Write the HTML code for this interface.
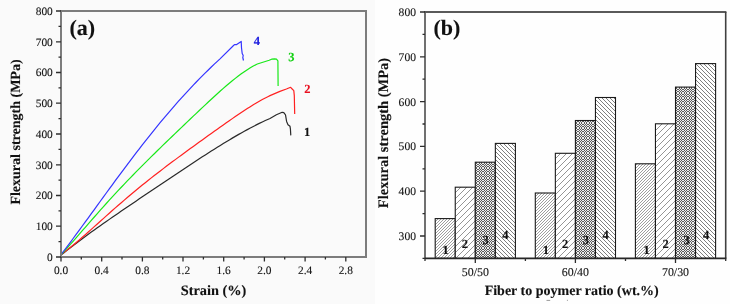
<!DOCTYPE html><html><head><meta charset="utf-8"><style>html,body{margin:0;padding:0;background:#fff;}svg{display:block;will-change:transform;}text{font-family:"Liberation Serif",serif;stroke-width:0.12px;paint-order:stroke;text-rendering:geometricPrecision;}</style></head><body>
<svg width="730" height="304" viewBox="0 0 730 304">
<defs>
<pattern id="p1" patternUnits="userSpaceOnUse" width="3" height="3"><rect width="3" height="3" fill="#fff"/><path d="M-1,4L4,-1M-1,1L1,-1M2,4L4,2" stroke="#858585" stroke-width="0.8"/></pattern>
<pattern id="p2" patternUnits="userSpaceOnUse" width="6" height="6"><rect width="6" height="6" fill="#fff"/><path d="M-1,7L7,-1M-1,1L1,-1M5,7L7,5" stroke="#7a7a7a" stroke-width="0.8"/></pattern>
<pattern id="p4" patternUnits="userSpaceOnUse" width="4" height="4"><rect width="4" height="4" fill="#fff"/><path d="M-1,-1L5,5M-1,3L1,5M3,-1L5,1" stroke="#686868" stroke-width="0.85"/></pattern>
<pattern id="p3" patternUnits="userSpaceOnUse" width="5" height="5"><g shape-rendering="crispEdges"><rect width="5" height="5" fill="#eeeeee"/><rect x="1" y="0" width="1" height="1" fill="#5c5c5c"/><rect x="4" y="0" width="1" height="1" fill="#5c5c5c"/><rect x="0" y="1" width="1" height="1" fill="#5c5c5c"/><rect x="2" y="1" width="1" height="1" fill="#5c5c5c"/><rect x="3" y="1" width="1" height="1" fill="#5c5c5c"/><rect x="1" y="2" width="1" height="1" fill="#5c5c5c"/><rect x="4" y="2" width="1" height="1" fill="#5c5c5c"/><rect x="1" y="3" width="1" height="1" fill="#5c5c5c"/><rect x="4" y="3" width="1" height="1" fill="#5c5c5c"/><rect x="0" y="4" width="1" height="1" fill="#5c5c5c"/><rect x="2" y="4" width="1" height="1" fill="#5c5c5c"/><rect x="3" y="4" width="1" height="1" fill="#5c5c5c"/></g></pattern>
</defs>
<rect x="0" y="0" width="375" height="304" fill="#fafafa"/>
<rect x="375" y="0" width="355" height="304" fill="#fefefe"/>
<path d="M61.30,254.85 L64.30,252.45 L67.30,250.08 L70.30,247.75 L73.30,245.44 L76.30,243.16 L79.30,240.91 L82.30,238.68 L85.30,236.47 L88.30,234.28 L91.30,232.11 L94.30,229.95 L97.30,227.81 L100.30,225.69 L103.30,223.57 L106.30,221.47 L109.30,219.38 L112.30,217.30 L115.30,215.23 L118.30,213.16 L121.30,211.10 L124.30,209.05 L127.30,207.01 L130.30,204.96 L133.30,202.92 L136.30,200.89 L139.30,198.86 L142.30,196.83 L145.30,194.80 L148.30,192.78 L151.30,190.75 L154.30,188.73 L157.30,186.71 L160.30,184.69 L163.30,182.68 L166.30,180.67 L169.30,178.65 L172.30,176.65 L175.30,174.64 L178.30,172.64 L181.30,170.64 L184.30,168.65 L187.30,166.66 L190.30,164.68 L193.30,162.70 L196.30,160.73 L199.30,158.77 L202.30,156.82 L205.30,154.89 L208.30,152.96 L211.30,151.04 L214.30,149.14 L217.30,147.26 L220.30,145.39 L223.30,143.54 L226.30,141.71 L229.30,139.90 L232.30,138.12 L235.30,136.36 L238.30,134.62 L241.30,132.92 L244.30,131.25 L247.30,129.60 L250.30,128.00 L253.30,126.43 L256.30,124.90 L259.30,123.41 L262.30,121.96 L265.30,120.56 L268.30,119.21 L270.00,118.47 L276.40,114.80 L282.20,112.30 L283.80,112.70 L285.50,114.80L286.60,121.40L288.00,124.70L290.00,126.30L290.40,128.80L290.80,135.40" fill="none" stroke="#2a2a2a" stroke-width="1.2" stroke-linejoin="round"/>
<path d="M61.30,254.35 L64.30,252.13 L67.30,249.83 L70.30,247.44 L73.30,244.99 L76.30,242.48 L79.30,239.92 L82.30,237.32 L85.30,234.69 L88.30,232.03 L91.30,229.36 L94.30,226.67 L97.30,223.98 L100.30,221.28 L103.30,218.59 L106.30,215.90 L109.30,213.23 L112.30,210.56 L115.30,207.92 L118.30,205.29 L121.30,202.68 L124.30,200.09 L127.30,197.53 L130.30,194.99 L133.30,192.48 L136.30,189.99 L139.30,187.52 L142.30,185.08 L145.30,182.66 L148.30,180.27 L151.30,177.90 L154.30,175.55 L157.30,173.22 L160.30,170.91 L163.30,168.62 L166.30,166.34 L169.30,164.09 L172.30,161.84 L175.30,159.61 L178.30,157.39 L181.30,155.18 L184.30,152.98 L187.30,150.79 L190.30,148.61 L193.30,146.43 L196.30,144.26 L199.30,142.09 L202.30,139.93 L205.30,137.77 L208.30,135.61 L211.30,133.46 L214.30,131.31 L217.30,129.17 L220.30,127.04 L223.30,124.92 L226.30,122.80 L229.30,120.70 L232.30,118.62 L235.30,116.55 L238.30,114.51 L241.30,112.49 L244.30,110.51 L247.30,108.56 L250.30,106.65 L253.30,104.79 L256.30,102.98 L259.30,101.24 L262.30,99.56 L265.30,97.97 L268.30,96.46 L270.00,95.64 L279.90,91.40 L286.40,89.00 L290.60,87.30 L292.20,89.00 L293.80,90.60L294.30,95.60L294.70,114.10" fill="none" stroke="#ff2020" stroke-width="1.2" stroke-linejoin="round"/>
<path d="M61.30,254.45 L64.30,251.16 L67.30,247.82 L70.30,244.45 L73.30,241.05 L76.30,237.62 L79.30,234.18 L82.30,230.73 L85.30,227.29 L88.30,223.84 L91.30,220.41 L94.30,216.99 L97.30,213.58 L100.30,210.20 L103.30,206.84 L106.30,203.50 L109.30,200.19 L112.30,196.91 L115.30,193.65 L118.30,190.42 L121.30,187.23 L124.30,184.06 L127.30,180.92 L130.30,177.80 L133.30,174.71 L136.30,171.65 L139.30,168.61 L142.30,165.59 L145.30,162.60 L148.30,159.62 L151.30,156.66 L154.30,153.71 L157.30,150.78 L160.30,147.85 L163.30,144.94 L166.30,142.04 L169.30,139.15 L172.30,136.26 L175.30,133.38 L178.30,130.50 L181.30,127.62 L184.30,124.75 L187.30,121.89 L190.30,119.03 L193.30,116.17 L196.30,113.32 L199.30,110.48 L202.30,107.65 L205.30,104.83 L208.30,102.03 L211.30,99.25 L214.30,96.49 L217.30,93.76 L220.30,91.07 L223.30,88.42 L226.30,85.81 L229.30,83.26 L232.30,80.78 L235.30,78.37 L238.30,76.04 L241.30,73.81 L244.30,71.68 L247.30,69.68 L250.30,67.80 L253.30,66.08 L256.30,64.51 L257.30,64.03 L269.20,60.20 L271.60,59.20 L274.50,58.80 L276.50,59.20 L277.90,60.80L278.10,86.00" fill="none" stroke="#18e818" stroke-width="1.2" stroke-linejoin="round"/>
<path d="M61.30,254.19 L64.30,250.25 L67.30,246.28 L70.30,242.27 L73.30,238.24 L76.30,234.18 L79.30,230.11 L82.30,226.01 L85.30,221.90 L88.30,217.78 L91.30,213.66 L94.30,209.53 L97.30,205.39 L100.30,201.26 L103.30,197.13 L106.30,193.01 L109.30,188.90 L112.30,184.80 L115.30,180.71 L118.30,176.64 L121.30,172.59 L124.30,168.56 L127.30,164.55 L130.30,160.57 L133.30,156.62 L136.30,152.69 L139.30,148.79 L142.30,144.93 L145.30,141.10 L148.30,137.30 L151.30,133.54 L154.30,129.81 L157.30,126.13 L160.30,122.48 L163.30,118.87 L166.30,115.31 L169.30,111.78 L172.30,108.30 L175.30,104.87 L178.30,101.47 L181.30,98.12 L184.30,94.81 L187.30,91.55 L190.30,88.33 L193.30,85.16 L196.30,82.03 L199.30,78.95 L202.30,75.90 L205.30,72.91 L208.30,69.95 L211.30,67.04 L214.30,64.17 L217.30,61.34 L220.00,58.83 L233.80,45.20 L234.80,44.60 L236.30,44.70 L241.20,41.40L241.50,47.80L242.20,53.50L243.20,55.50L242.80,57.50L243.50,60.50" fill="none" stroke="#3434ff" stroke-width="1.2" stroke-linejoin="round"/>
<rect x="61" y="11" width="305" height="246" fill="none" stroke="#7c7c7c" stroke-width="2"/>
<path d="M61.0,257v4.5M81.3,257v2.5M101.7,257v4.5M122.0,257v2.5M142.4,257v4.5M162.7,257v2.5M183.0,257v4.5M203.4,257v2.5M223.7,257v4.5M244.1,257v2.5M264.4,257v4.5M284.7,257v2.5M305.1,257v4.5M325.4,257v2.5M345.8,257v4.5M61,257.0h-5M61,241.6h-2.5M61,226.2h-5M61,210.9h-2.5M61,195.5h-5M61,180.1h-2.5M61,164.8h-5M61,149.4h-2.5M61,134.0h-5M61,118.6h-2.5M61,103.2h-5M61,87.9h-2.5M61,72.5h-5M61,57.1h-2.5M61,41.8h-5M61,26.4h-2.5M61,11.0h-5" stroke="#2e2e2e" stroke-width="1.3" fill="none"/>
<text x="61.0" y="274" font-size="11.4" text-anchor="middle" fill="#151515" stroke="#151515">0.0</text>
<text x="101.7" y="274" font-size="11.4" text-anchor="middle" fill="#151515" stroke="#151515">0.4</text>
<text x="142.4" y="274" font-size="11.4" text-anchor="middle" fill="#151515" stroke="#151515">0.8</text>
<text x="183.0" y="274" font-size="11.4" text-anchor="middle" fill="#151515" stroke="#151515">1.2</text>
<text x="223.7" y="274" font-size="11.4" text-anchor="middle" fill="#151515" stroke="#151515">1.6</text>
<text x="264.4" y="274" font-size="11.4" text-anchor="middle" fill="#151515" stroke="#151515">2.0</text>
<text x="305.1" y="274" font-size="11.4" text-anchor="middle" fill="#151515" stroke="#151515">2.4</text>
<text x="345.8" y="274" font-size="11.4" text-anchor="middle" fill="#151515" stroke="#151515">2.8</text>
<text x="52.8" y="260.9" font-size="11.4" text-anchor="end" fill="#151515" stroke="#151515">0</text>
<text x="52.8" y="230.2" font-size="11.4" text-anchor="end" fill="#151515" stroke="#151515">100</text>
<text x="52.8" y="199.4" font-size="11.4" text-anchor="end" fill="#151515" stroke="#151515">200</text>
<text x="52.8" y="168.7" font-size="11.4" text-anchor="end" fill="#151515" stroke="#151515">300</text>
<text x="52.8" y="137.9" font-size="11.4" text-anchor="end" fill="#151515" stroke="#151515">400</text>
<text x="52.8" y="107.2" font-size="11.4" text-anchor="end" fill="#151515" stroke="#151515">500</text>
<text x="52.8" y="76.4" font-size="11.4" text-anchor="end" fill="#151515" stroke="#151515">600</text>
<text x="52.8" y="45.6" font-size="11.4" text-anchor="end" fill="#151515" stroke="#151515">700</text>
<text x="52.8" y="14.9" font-size="11.4" text-anchor="end" fill="#151515" stroke="#151515">800</text>
<text x="213.5" y="295.3" font-size="14.3" font-weight="bold" text-anchor="middle" fill="#111" stroke="#111">Strain (%)</text>
<text transform="translate(19.5,132) rotate(-90)" x="0" y="0" font-size="14" font-weight="bold" text-anchor="middle" fill="#111" stroke="#111">Flexural strength (MPa)</text>
<text x="69.5" y="35" font-size="22" font-weight="bold" fill="#111" stroke="#111">(a)</text>
<text x="253.8" y="44.9" font-size="12.5" font-weight="bold" fill="#2020e0" stroke="#2020e0">4</text>
<text x="288.2" y="60.9" font-size="12.5" font-weight="bold" fill="#10d010" stroke="#10d010">3</text>
<text x="304.2" y="92.6" font-size="12.5" font-weight="bold" fill="#e81020" stroke="#e81020">2</text>
<text x="304.0" y="135.5" font-size="12.5" font-weight="bold" fill="#111" stroke="#111">1</text>
<rect x="435.20" y="218.6" width="20.05" height="39.8" fill="url(#p1)" stroke="#1a1a1a" stroke-width="1.1"/>
<rect x="455.25" y="187.2" width="20.05" height="71.2" fill="url(#p2)" stroke="#1a1a1a" stroke-width="1.1"/>
<rect x="475.30" y="162.2" width="20.05" height="96.2" fill="url(#p3)" stroke="#1a1a1a" stroke-width="1.1"/>
<rect x="495.35" y="143.4" width="20.05" height="115.0" fill="url(#p4)" stroke="#1a1a1a" stroke-width="1.1"/>
<rect x="535.30" y="193.0" width="20.05" height="65.4" fill="url(#p1)" stroke="#1a1a1a" stroke-width="1.1"/>
<rect x="555.35" y="153.3" width="20.05" height="105.1" fill="url(#p2)" stroke="#1a1a1a" stroke-width="1.1"/>
<rect x="575.40" y="120.5" width="20.05" height="137.9" fill="url(#p3)" stroke="#1a1a1a" stroke-width="1.1"/>
<rect x="595.45" y="97.5" width="20.05" height="160.9" fill="url(#p4)" stroke="#1a1a1a" stroke-width="1.1"/>
<rect x="635.40" y="163.8" width="20.05" height="94.6" fill="url(#p1)" stroke="#1a1a1a" stroke-width="1.1"/>
<rect x="655.45" y="123.8" width="20.05" height="134.6" fill="url(#p2)" stroke="#1a1a1a" stroke-width="1.1"/>
<rect x="675.50" y="87.1" width="20.05" height="171.3" fill="url(#p3)" stroke="#1a1a1a" stroke-width="1.1"/>
<rect x="695.55" y="63.6" width="20.05" height="194.8" fill="url(#p4)" stroke="#1a1a1a" stroke-width="1.1"/>
<text x="445.7" y="254.0" font-size="12.5" font-weight="bold" text-anchor="middle" fill="#111" stroke="#111">1</text>
<text x="464.9" y="247.6" font-size="12.5" font-weight="bold" text-anchor="middle" fill="#111" stroke="#111">2</text>
<text x="485.7" y="243.7" font-size="12.5" font-weight="bold" text-anchor="middle" fill="#111" stroke="#111">3</text>
<text x="505.4" y="238.7" font-size="12.5" font-weight="bold" text-anchor="middle" fill="#111" stroke="#111">4</text>
<text x="545.8" y="254.0" font-size="12.5" font-weight="bold" text-anchor="middle" fill="#111" stroke="#111">1</text>
<text x="565.0" y="247.6" font-size="12.5" font-weight="bold" text-anchor="middle" fill="#111" stroke="#111">2</text>
<text x="585.8" y="243.7" font-size="12.5" font-weight="bold" text-anchor="middle" fill="#111" stroke="#111">3</text>
<text x="605.5" y="238.7" font-size="12.5" font-weight="bold" text-anchor="middle" fill="#111" stroke="#111">4</text>
<text x="646.5" y="254.0" font-size="12.5" font-weight="bold" text-anchor="middle" fill="#111" stroke="#111">1</text>
<text x="665.7" y="247.6" font-size="12.5" font-weight="bold" text-anchor="middle" fill="#111" stroke="#111">2</text>
<text x="686.5" y="243.7" font-size="12.5" font-weight="bold" text-anchor="middle" fill="#111" stroke="#111">3</text>
<text x="706.2" y="238.7" font-size="12.5" font-weight="bold" text-anchor="middle" fill="#111" stroke="#111">4</text>
<path d="M425,258.9V12" fill="none" stroke="#707070" stroke-width="2"/>
<path d="M424,12H726.4000000000001" fill="none" stroke="#5a5a5a" stroke-width="2"/>
<path d="M725.7,12V258.4" fill="none" stroke="#404040" stroke-width="1.6"/>
<path d="M425,258.4H726.4000000000001" fill="none" stroke="#262626" stroke-width="1.6"/>
<path d="M425,258.4h-2.5M425,236.0h-5M425,213.6h-2.5M425,191.2h-5M425,168.8h-2.5M425,146.4h-5M425,124.0h-2.5M425,101.6h-5M425,79.2h-2.5M425,56.8h-5M425,34.4h-2.5M425,12.0h-5M425,258.4v2.5M475.3,258.4v4.5M525.4,258.4v2.5M575.4,258.4v4.5M625.5,258.4v2.5M675.5,258.4v4.5M725.7,258.4v2.5" stroke="#2e2e2e" stroke-width="1.3" fill="none"/>
<text x="416" y="239.9" font-size="11.6" text-anchor="end" fill="#151515" stroke="#151515">300</text>
<text x="416" y="195.1" font-size="11.6" text-anchor="end" fill="#151515" stroke="#151515">400</text>
<text x="416" y="150.3" font-size="11.6" text-anchor="end" fill="#151515" stroke="#151515">500</text>
<text x="416" y="105.5" font-size="11.6" text-anchor="end" fill="#151515" stroke="#151515">600</text>
<text x="416" y="60.7" font-size="11.6" text-anchor="end" fill="#151515" stroke="#151515">700</text>
<text x="416" y="15.9" font-size="11.6" text-anchor="end" fill="#151515" stroke="#151515">800</text>
<text x="475.3" y="275.8" font-size="11.9" text-anchor="middle" fill="#151515" stroke="#151515">50/50</text>
<text x="575.4" y="275.8" font-size="11.9" text-anchor="middle" fill="#151515" stroke="#151515">60/40</text>
<text x="675.5" y="275.8" font-size="11.9" text-anchor="middle" fill="#151515" stroke="#151515">70/30</text>
<text x="571.7" y="294.7" font-size="14" font-weight="bold" text-anchor="middle" fill="#111" stroke="#111">Fiber to poymer ratio (wt.%)</text>
<text transform="translate(388.3,133) rotate(-90)" x="0" y="0" font-size="14.5" font-weight="bold" text-anchor="middle" fill="#111" stroke="#111">Flexural strength (MPa)</text>
<text x="433.5" y="34.8" font-size="22" font-weight="bold" fill="#111" stroke="#111">(b)</text>
<path d="M546.5,300.4H550.2" stroke="#9a9a9a" stroke-width="1"/><rect x="566.9" y="299.8" width="1.1" height="1.1" fill="#aaa"/>
</svg></body></html>
